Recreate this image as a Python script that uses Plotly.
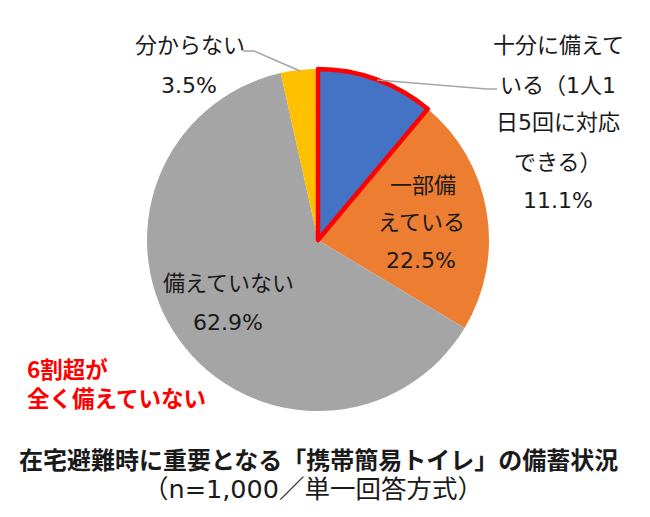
import plotly.graph_objects as go

# ---- data ----
labels = ["十分に備えている（1人1日5回に対応できる）", "一部備えている", "備えていない", "分からない"]
values = [11.1, 22.5, 62.9, 3.5]
colors = ["#4472C4", "#ED7D31", "#A5A5A5", "#FFC000"]
label_lines = [
    ["十分に備えて", "いる（1人1", "日5回に対応", "できる）"],
    ["一部備", "えている"],
    ["備えていない"],
    ["分からない"],
]
note_lines = ["6割超が", "全く備えていない"]
title_text = "在宅避難時に重要となる「携帯簡易トイレ」の備蓄状況"
subtitle_text = "（n=1,000／単一回答方式）"

W, H = 650, 517
OFF = 8  # page body margin
FONT = "DejaVu Sans, Noto Sans CJK JP"
CJK = "Noto Sans CJK JP"
TXT = "#1a1a1a"

def px(x):
    return (x - OFF) / W

def py(y):
    return 1 - (y - OFF) / H

dom = dict(x=[px(147), px(489)], y=[py(411), py(69)])

fig = go.Figure()
fig.add_trace(go.Pie(
    labels=labels, values=values, sort=False, direction="clockwise", rotation=0,
    marker=dict(colors=colors, line=dict(width=0)),
    textinfo="none", hoverinfo="label+percent", domain=dom, showlegend=False,
))
# outline overlay for the first slice
fig.add_trace(go.Pie(
    labels=labels, values=values, sort=False, direction="clockwise", rotation=0,
    marker=dict(colors=["rgba(0,0,0,0)"] * len(values),
                line=dict(color=["#FF0000", "rgba(0,0,0,0)", "rgba(0,0,0,0)", "rgba(0,0,0,0)"],
                          width=[4.5, 0, 0, 0])),
    textinfo="none", hoverinfo="skip", domain=dom, showlegend=False,
))

annotations = []

def add_line(text, x, y, size=22, color=TXT, bold=False, xanchor="center", family=FONT):
    t = f"<b>{text}</b>" if bold else text
    annotations.append(dict(text=t, x=px(x), y=py(y), xref="paper", yref="paper",
                            xanchor=xanchor, yanchor="middle", showarrow=False,
                            align="left" if xanchor == "left" else "center",
                            font=dict(family=family, size=size, color=color)))

pct = [f"{v:.1f}%" for v in values]

# slice 0 label (outside right)
ys0 = [45, 85, 123, 162, 200]
for s, y in zip(label_lines[0] + [pct[0]], ys0):
    add_line(s, 558, y)
# slice 1 label (inside orange)
for s, (x, y) in zip(label_lines[1] + [pct[1]], [(423, 185), (421, 222), (421, 261)]):
    add_line(s, x, y)
# slice 2 label (inside gray)
for s, y in zip(label_lines[2] + [pct[2]], [283, 322]):
    add_line(s, 228, y)
# slice 3 label (outside left)
for s, (x, y) in zip(label_lines[3] + [pct[3]], [(190, 45), (189, 85)]):
    add_line(s, x, y)

# red note (one text block, two lines)
add_line("<br>".join(f"<b>{s}</b>" for s in note_lines), 25, 382, size=22.5,
         color="#FF0000", xanchor="left", family=CJK)

add_line(title_text, 318, 458, size=24, bold=True, family=CJK)
add_line(subtitle_text, 313, 489, size=25.5)

# leader lines
shapes = []
def seg(x0, y0, x1, y1):
    shapes.append(dict(type="line", xref="paper", yref="paper",
                       x0=px(x0), y0=py(y0), x1=px(x1), y1=py(y1),
                       line=dict(color="#A5A5A5", width=1.5)))
seg(243, 51, 254, 51)
seg(254, 51, 300, 71)
seg(497, 89, 487, 89)
seg(487, 89, 377, 80)

fig.update_layout(
    width=W, height=H, margin=dict(l=0, r=0, t=0, b=0),
    paper_bgcolor="white", plot_bgcolor="white",
    annotations=annotations, shapes=shapes,
    font=dict(family=FONT),
)

fig.write_html("out.html")
